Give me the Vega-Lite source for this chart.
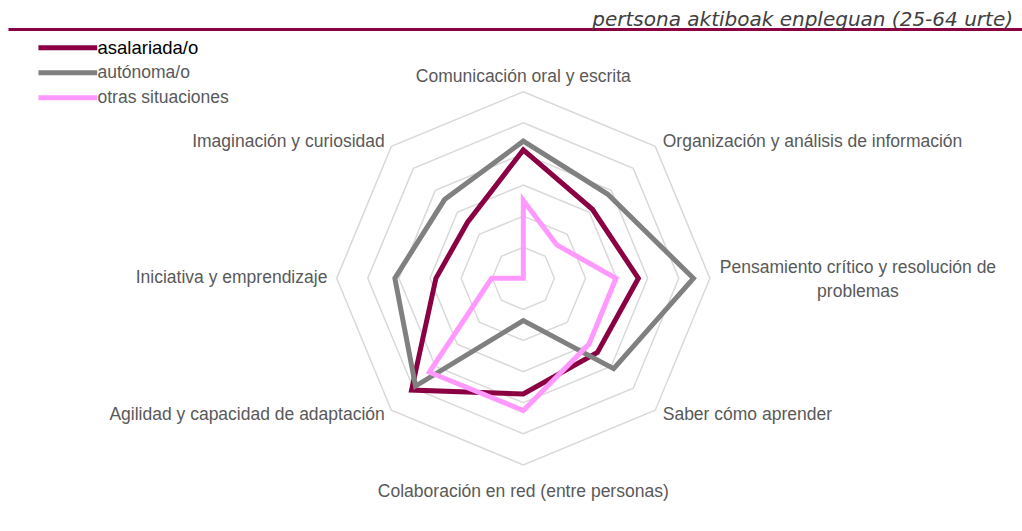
{
  "$schema": "https://vega.github.io/schema/vega-lite/v6.json",
  "width": 1014,
  "height": 502,
  "autosize": {"type": "none"},
  "padding": {"left": 8, "top": 29, "right": 0, "bottom": 0},
  "background": "white",
  "title": {
    "text": "pertsona aktiboak enpleguan (25-64 urte)",
    "anchor": "end",
    "orient": "top",
    "frame": "group",
    "font": "DejaVu Sans",
    "fontStyle": "italic",
    "fontWeight": "normal",
    "fontSize": 20,
    "color": "#404040",
    "offset": -1,
    "dx": -9
  },
  "config": {"view": {"stroke": null}},
  "data": {
    "values": [
      {"skill": "Comunicación oral y escrita", "group": "asalariada/o", "value": 4.13},
      {"skill": "Organización y análisis de información", "group": "asalariada/o", "value": 3.14},
      {"skill": "Pensamiento crítico y resolución de\nproblemas", "group": "asalariada/o", "value": 3.7},
      {"skill": "Saber cómo aprender", "group": "asalariada/o", "value": 3.37},
      {"skill": "Colaboración en red (entre personas)", "group": "asalariada/o", "value": 3.72},
      {"skill": "Agilidad y capacidad de adaptación", "group": "asalariada/o", "value": 5.08},
      {"skill": "Iniciativa y emprendizaje", "group": "asalariada/o", "value": 2.81},
      {"skill": "Imaginación y curiosidad", "group": "asalariada/o", "value": 2.54},
      {"skill": "Comunicación oral y escrita", "group": "autónoma/o", "value": 4.41},
      {"skill": "Organización y análisis de información", "group": "autónoma/o", "value": 3.83},
      {"skill": "Pensamiento crítico y resolución de\nproblemas", "group": "autónoma/o", "value": 5.47},
      {"skill": "Saber cómo aprender", "group": "autónoma/o", "value": 4.11},
      {"skill": "Colaboración en red (entre personas)", "group": "autónoma/o", "value": 1.36},
      {"skill": "Agilidad y capacidad de adaptación", "group": "autónoma/o", "value": 4.9},
      {"skill": "Iniciativa y emprendizaje", "group": "autónoma/o", "value": 4.13},
      {"skill": "Imaginación y curiosidad", "group": "autónoma/o", "value": 3.58},
      {"skill": "Comunicación oral y escrita", "group": "otras situaciones", "value": 2.5},
      {"skill": "Organización y análisis de información", "group": "otras situaciones", "value": 1.52},
      {"skill": "Pensamiento crítico y resolución de\nproblemas", "group": "otras situaciones", "value": 2.98},
      {"skill": "Saber cómo aprender", "group": "otras situaciones", "value": 2.99},
      {"skill": "Colaboración en red (entre personas)", "group": "otras situaciones", "value": 4.25},
      {"skill": "Agilidad y capacidad de adaptación", "group": "otras situaciones", "value": 4.27},
      {"skill": "Iniciativa y emprendizaje", "group": "otras situaciones", "value": 1.02},
      {"skill": "Imaginación y curiosidad", "group": "otras situaciones", "value": 0}
    ]
  },
  "transform": [
    {"window": [{"op": "row_number", "as": "rn"}], "groupby": ["group"]},
    {"calculate": "datum.rn - 1", "as": "i"},
    {"calculate": "datum.i * PI / 4", "as": "ang"}
  ],
  "encoding": {
    "x": {
      "field": "px",
      "type": "quantitative",
      "scale": {"domain": [-16.569, 16.035], "nice": false, "zero": false},
      "axis": {"orient": "top", "domainColor": "#8a0043", "domainWidth": 3, "ticks": false, "labels": false, "grid": false, "title": null}
    },
    "y": {
      "field": "py",
      "type": "quantitative",
      "scale": {"domain": [-8.125, 8.016], "nice": false, "zero": false},
      "axis": null
    }
  },
  "layer": [
    {
      "transform": [
        {"filter": "datum.group === 'asalariada/o'"},
        {"calculate": "[1, 2, 3, 4, 5, 6]", "as": "ring"},
        {"flatten": ["ring"]},
        {"calculate": "datum.ring * sin(datum.ang)", "as": "px"},
        {"calculate": "datum.ring * cos(datum.ang)", "as": "py"}
      ],
      "mark": {"type": "line", "interpolate": "linear-closed", "stroke": "#d9d9d9", "strokeWidth": 1.5},
      "encoding": {
        "detail": {"field": "ring", "type": "nominal"},
        "order": {"field": "i", "type": "quantitative"}
      }
    },
    {
      "transform": [
        {"calculate": "datum.value * sin(datum.ang)", "as": "px"},
        {"calculate": "datum.value * cos(datum.ang)", "as": "py"}
      ],
      "mark": {"type": "line", "interpolate": "linear-closed", "strokeWidth": 5},
      "encoding": {
        "color": {
          "field": "group",
          "type": "nominal",
          "scale": {"domain": ["asalariada/o", "autónoma/o", "otras situaciones"], "range": ["#8a0043", "#808080", "#ff99ff"]},
          "legend": {
            "orient": "none",
            "legendX": 72,
            "legendY": 10,
            "title": null,
            "symbolType": "M-9,0H1.5",
            "symbolSize": 125,
            "symbolStrokeWidth": 5,
            "labelFont": "Liberation Sans",
            "labelFontSize": {"expr": "datum.label === 'asalariada/o' ? 18.5 : 17.5"},
            "labelColor": {"expr": "datum.label === 'asalariada/o' ? '#000000' : '#595959'"},
            "labelExpr": "datum.label === 'asalariada/o' ? '\u00a0\u00a0' + datum.label : datum.label",
            "labelOffset": 0,
            "rowPadding": 4,
            "padding": 0
          }
        },
        "order": {"field": "i", "type": "quantitative"}
      }
    },
    {
      "transform": [
        {"filter": "datum.group === 'asalariada/o' && datum.i === 0"},
        {"calculate": "6.32 * sin(datum.ang)", "as": "px"},
        {"calculate": "6.32 * cos(datum.ang)", "as": "py"}
      ],
      "mark": {"type": "text", "align": "center", "baseline": "alphabetic", "font": "Liberation Sans", "fontSize": 17.5, "fill": "#595959"},
      "encoding": {"text": {"field": "skill"}}
    },
    {
      "transform": [
        {"filter": "datum.group === 'asalariada/o' && datum.i === 4"},
        {"calculate": "7.02 * sin(datum.ang)", "as": "px"},
        {"calculate": "7.02 * cos(datum.ang)", "as": "py"}
      ],
      "mark": {"type": "text", "align": "center", "baseline": "alphabetic", "font": "Liberation Sans", "fontSize": 17.5, "fill": "#595959"},
      "encoding": {"text": {"field": "skill"}}
    },
    {
      "transform": [
        {"filter": "datum.group === 'asalariada/o' && (datum.i === 1 || datum.i === 3)"},
        {"calculate": "6.34 * sin(datum.ang)", "as": "px"},
        {"calculate": "6.2 * cos(datum.ang)", "as": "py"}
      ],
      "mark": {"type": "text", "align": "left", "baseline": "middle", "font": "Liberation Sans", "fontSize": 17.5, "fill": "#595959"},
      "encoding": {"text": {"field": "skill"}}
    },
    {
      "transform": [
        {"filter": "datum.group === 'asalariada/o' && datum.i >= 5"},
        {"calculate": "6.3 * sin(datum.ang)", "as": "px"},
        {"calculate": "6.2 * cos(datum.ang)", "as": "py"}
      ],
      "mark": {"type": "text", "align": "right", "baseline": "middle", "font": "Liberation Sans", "fontSize": 17.5, "fill": "#595959"},
      "encoding": {"text": {"field": "skill"}}
    },
    {
      "transform": [
        {"filter": "datum.group === 'asalariada/o' && datum.i === 2"},
        {"calculate": "6.34 * sin(datum.ang)", "as": "px"},
        {"calculate": "6.34 * cos(datum.ang)", "as": "py"}
      ],
      "mark": {"type": "text", "align": "center", "baseline": "alphabetic", "lineBreak": "\n", "lineHeight": 24, "dx": 137.5, "dy": -5, "font": "Liberation Sans", "fontSize": 17.5, "fill": "#595959"},
      "encoding": {"text": {"field": "skill"}}
    }
  ]
}
